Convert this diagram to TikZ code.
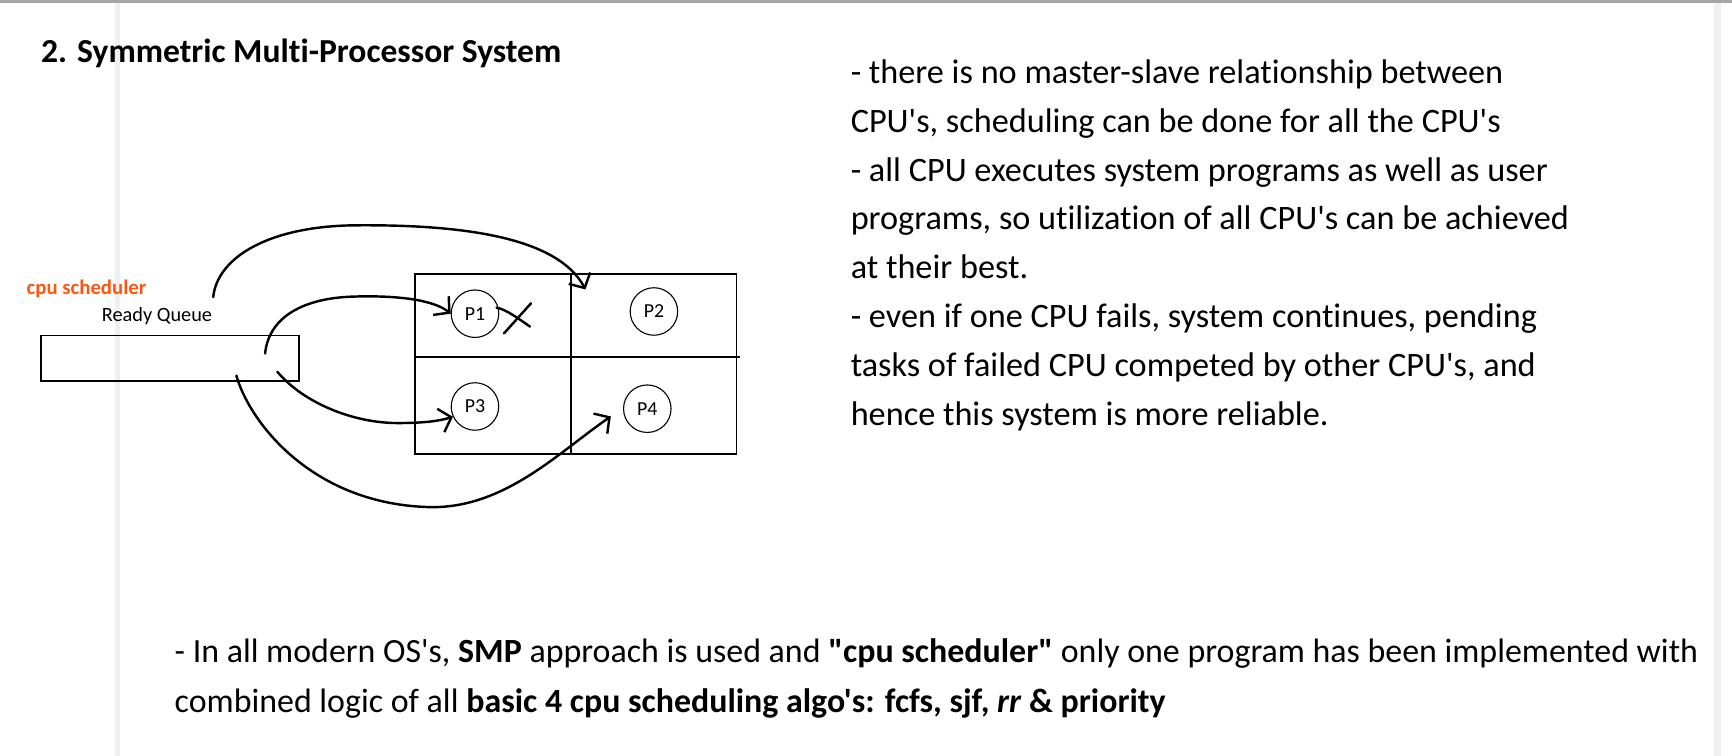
\documentclass[tikz,border=0pt]{standalone}
\usepackage{fontspec}
\setmainfont{Carlito}[Ligatures={TeXOff,NoCommon}]
\usetikzlibrary{arrows.meta}
\definecolor{orng}{RGB}{255,85,15}
\definecolor{stripe}{RGB}{240,240,240}
\definecolor{topline}{RGB}{165,165,165}
\tikzset{
 txt/.style={anchor=base west, inner sep=0pt, font=\fontsize{31}{44}\selectfont},
 btxt/.style={anchor=base west, inner sep=0pt, font=\fontsize{30.7}{44}\selectfont},
 ttl/.style={anchor=base west, inner sep=0pt, font=\fontsize{30.4}{36}\selectfont\bfseries},
 hand/.style={line width=2.2pt, line cap=round, line join=round,
   -{Straight Barb[length=10pt,width=22pt,line width=2.2pt]}},
 stroke/.style={line width=2.2pt, line cap=round, line join=round},
 proc/.style={circle, draw, line width=1pt, minimum size=43pt, inner sep=0pt, font=\fontsize{18}{20}\selectfont},
 frame/.style={draw, line width=1.6pt, inner sep=0pt},
 small/.style={anchor=base west, inner sep=0pt, font=\fontsize{18.4}{20}\selectfont},
}
\begin{document}
\begin{tikzpicture}[x=1pt,y=-1pt]
\useasboundingbox (0,0) rectangle (1568,684);
% page decorations
\fill[topline] (0,0) rectangle (1568,2.5);
\fill[stripe] (104,2.5) rectangle (109,684);
\fill[stripe] (1552,2.5) rectangle (1558,684);
% title
\node[ttl] (title) at (37,57) {2. Symmetric Multi-Processor System};
% right text
\node[txt] (r1) at (770,75.5) {- there is no master-slave relationship between};
\node[txt] (r2) at (770,119.7) {CPU's, scheduling can be done for all the CPU's};
\node[txt] (r3) at (770,163.9) {- all CPU executes system programs as well as user};
\node[txt] (r4) at (770,208.1) {programs, so utilization of all CPU's can be achieved};
\node[txt] (r5) at (770,252.3) {at their best.};
\node[txt] (r6) at (770,296.5) {- even if one CPU fails, system continues, pending};
\node[txt] (r7) at (770,340.7) {tasks of failed CPU competed by other CPU's, and};
\node[txt] (r8) at (770,384.9) {hence this system is more reliable.};
% bottom text
\node[btxt] (b1) at (158,600) {- In all modern OS's, \textbf{SMP} approach is used and \textbf{"cpu scheduler"} only one program has been implemented with};
\node[btxt] (b2) at (158,645) {combined logic of all \textbf{basic 4 cpu scheduling algo's: fcfs, sjf, \textit{rr} \& priority}};
% diagram labels
\node[small, font=\fontsize{18.8}{20}\selectfont\bfseries, text=orng] (cs) at (24,267) {cpu scheduler};
\node[small] (rq) at (92,291) {Ready Queue};
% ready queue box
\node[frame, minimum width=234pt, minimum height=41pt, anchor=north west] (box) at (36,303) {};
% processor grid
\node[frame, minimum width=291pt, minimum height=163pt, anchor=north west] (grid) at (375,247) {};
\draw[line width=1.6pt] (517,247) -- (517,410);
\draw[line width=1.6pt] (375,323) -- (670,323);
% processors
\node[proc] (p1) at (430,284) {P1};
\node[proc] (p2) at (592,282) {P2};
\node[proc] (p3) at (430,368) {P3};
\node[proc] (p4) at (586,370) {P4};
% cross on P1
\draw[stroke] (456.3,301.8) -- (480.7,274.6);
\draw[stroke] (449.6,278.5) .. controls (456,280) and (462,283) .. (479.8,295.7);
% connector start / end points
\coordinate (sA) at (193,269);
\coordinate (sB) at (240,320);
\coordinate (sC) at (251,336.5);
\coordinate (sD) at (214,340);
\coordinate (tA) at (530,262);
\coordinate (tD) at (553,377);
% connectors
\draw[hand] (sA) .. controls (197,232) and (245,205) .. (320,204)
  .. controls (420,203) and (505,215) .. (tA);
\draw[hand] (sB) .. controls (243,290) and (270,270) .. (320,268.5)
  .. controls (370,267) and (396,274) .. (p1.west);
\draw[hand] (sC) .. controls (275,365) and (320,383) .. (360,383)
  .. controls (385,383) and (398,381) .. (p3.205);
\draw[hand] (sD) .. controls (225,380) and (280,455) .. (386,459)
  .. controls (455,462) and (505,410) .. (tD);
\end{tikzpicture}
\end{document}
